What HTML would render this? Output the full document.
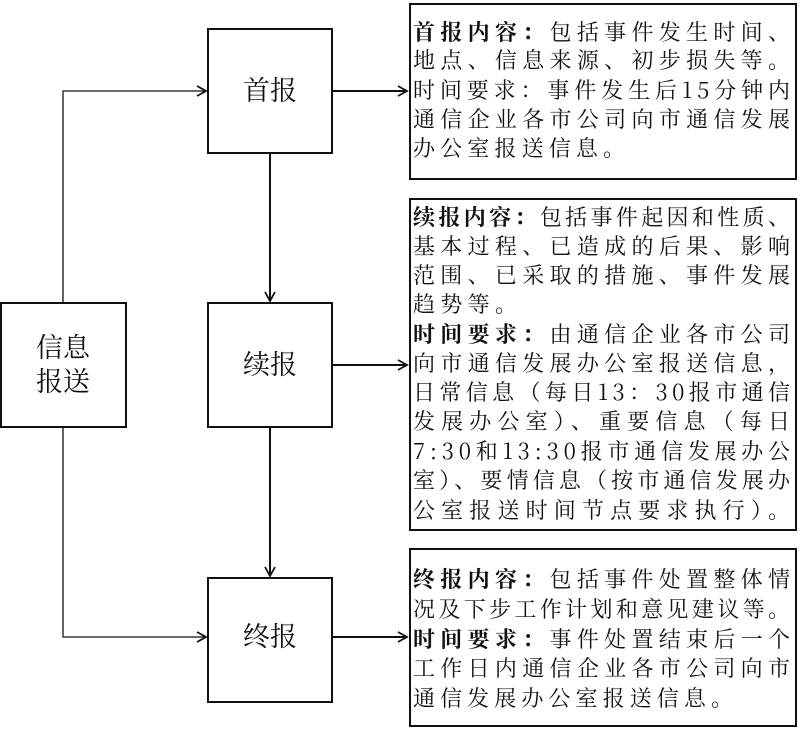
<!DOCTYPE html>
<html><head><meta charset="utf-8"><style>
html,body{margin:0;padding:0;background:#fff;}
svg{display:block;}
text{font-family:"Noto Serif CJK SC","Noto Serif CJK JP","Liberation Serif",serif;fill:#111;}
.t{font-size:22px;}
.b{font-weight:bold;}
.lab{font-size:27px;}
</style></head><body>
<svg width="801" height="729" viewBox="0 0 801 729" xmlns="http://www.w3.org/2000/svg">
<defs>
<marker id="a" markerWidth="12" markerHeight="12" refX="10" refY="6" orient="auto" markerUnits="userSpaceOnUse">
<path d="M1,1 L10,6 L1,11" fill="none" stroke="#111" stroke-width="1.8"/>
</marker>
</defs>
<g fill="none" stroke="#111" stroke-width="2">
<rect x="1" y="303" width="125" height="124"/>
<rect x="208" y="29" width="124" height="124"/>
<rect x="208" y="303" width="124" height="124"/>
<rect x="208" y="578" width="124" height="124"/>
<rect x="410" y="4" width="386" height="175"/>
<rect x="410" y="199" width="386" height="331"/>
<rect x="410" y="549" width="386" height="177"/>
<path d="M332,91 H407" marker-end="url(#a)"/>
<path d="M332,365 H407" marker-end="url(#a)"/>
<path d="M332,637 H407" marker-end="url(#a)"/>
<path d="M270,153 V301" marker-end="url(#a)"/>
<path d="M270,427 V576" marker-end="url(#a)"/>
</g>
<g fill="none" stroke="#111" stroke-width="1.3">
<path d="M63,303 V91 H206" marker-end="url(#a)"/>
<path d="M63,427 V637 H206" marker-end="url(#a)"/>
</g>
<text class="lab" x="63" y="357" text-anchor="middle">信息</text>
<text class="lab" x="63" y="391" text-anchor="middle">报送</text>
<text class="lab" x="270" y="100" text-anchor="middle">首报</text>
<text class="lab" x="270" y="374" text-anchor="middle">续报</text>
<text class="lab" x="270" y="646" text-anchor="middle">终报</text>

<g class="t">
<text x="413" y="40" textLength="377" lengthAdjust="spacing"><tspan class="b">首报内容：</tspan>包括事件发生时间、</text>
<text x="413" y="68" textLength="377" lengthAdjust="spacing">地点、信息来源、初步损失等。</text>
<text x="413" y="98" textLength="377" lengthAdjust="spacing">时间要求：事件发生后15分钟内</text>
<text x="413" y="127" textLength="377" lengthAdjust="spacing">通信企业各市公司向市通信发展</text>
<text x="413" y="156" textLength="212" lengthAdjust="spacing">办公室报送信息。</text>

<text x="413" y="225" textLength="377" lengthAdjust="spacing"><tspan class="b">续报内容：</tspan>包括事件起因和性质、</text>
<text x="413" y="254" textLength="377" lengthAdjust="spacing">基本过程、已造成的后果、影响</text>
<text x="413" y="283" textLength="377" lengthAdjust="spacing">范围、已采取的措施、事件发展</text>
<text x="413" y="312" textLength="104" lengthAdjust="spacing">趋势等。</text>
<text x="413" y="342" textLength="377" lengthAdjust="spacing"><tspan class="b">时间要求：</tspan>由通信企业各市公司</text>
<text x="413" y="371" textLength="377" lengthAdjust="spacing">向市通信发展办公室报送信息，</text>
<text x="413" y="400" textLength="377" lengthAdjust="spacing">日常信息（每日13：30报市通信</text>
<text x="413" y="429" textLength="377" lengthAdjust="spacing">发展办公室）、重要信息（每日</text>
<text x="413" y="459" textLength="377" lengthAdjust="spacing">7:30和13:30报市通信发展办公</text>
<text x="413" y="488" textLength="377" lengthAdjust="spacing">室）、要情信息（按市通信发展办</text>
<text x="413" y="518" textLength="377" lengthAdjust="spacing">公室报送时间节点要求执行）。</text>

<text x="413" y="587" textLength="377" lengthAdjust="spacing"><tspan class="b">终报内容：</tspan>包括事件处置整体情</text>
<text x="413" y="617" textLength="377" lengthAdjust="spacing">况及下步工作计划和意见建议等。</text>
<text x="413" y="647" textLength="377" lengthAdjust="spacing"><tspan class="b">时间要求：</tspan>事件处置结束后一个</text>
<text x="413" y="676" textLength="377" lengthAdjust="spacing">工作日内通信企业各市公司向市</text>
<text x="413" y="706" textLength="320" lengthAdjust="spacing">通信发展办公室报送信息。</text>
</g>
</svg>
</body></html>
